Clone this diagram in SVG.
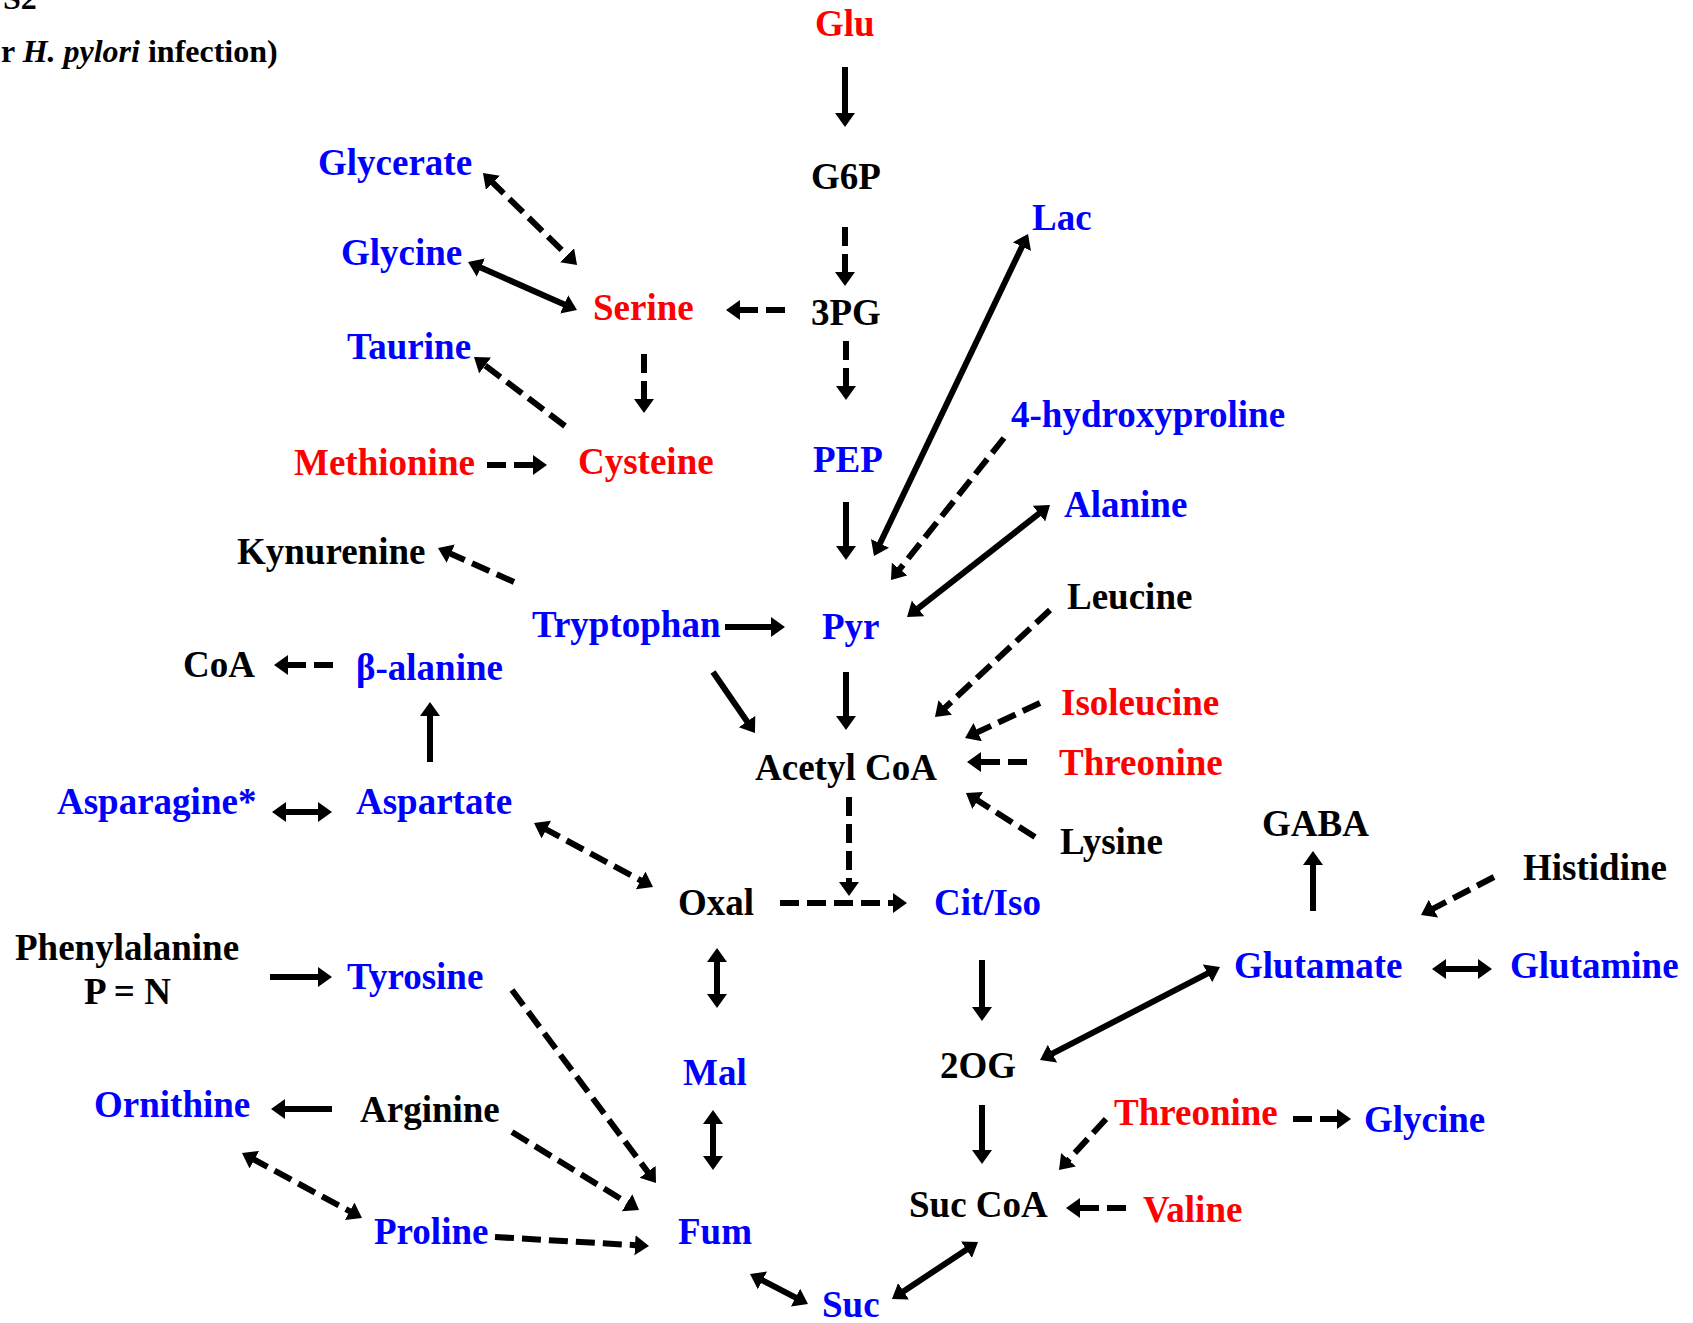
<svg xmlns="http://www.w3.org/2000/svg" width="1693" height="1323" viewBox="0 0 1693 1323">
<style>
text{font-family:"Liberation Serif","Times New Roman",serif;font-weight:bold;font-size:37px}
.r{fill:#FF0000}.b{fill:#0000FF}.k{fill:#000}
.hdr{font-size:32px}
.s{stroke:#000;stroke-width:6;fill:none;marker-end:url(#ah)}
.d{stroke:#000;stroke-width:6;fill:none;stroke-dasharray:19 8;marker-end:url(#ah)}
.bi{marker-start:url(#ah)}
</style>
<defs>
<marker id="ah" markerUnits="userSpaceOnUse" markerWidth="16" markerHeight="22" refX="4" refY="10" orient="auto-start-reverse" viewBox="0 0 16 22">
<path d="M0,0 L14,10 L0,20 z" fill="#000"/>
</marker>
</defs>
<rect width="1693" height="1323" fill="#fff"/>
<g id="header">
<text class="hdr k" x="3" y="9">S2</text>
<text class="hdr k" x="1" y="62">r <tspan font-style="italic">H. pylori</tspan> infection)</text>
</g>
<g id="connectors">
<line class="s" x1="845" y1="67" x2="845" y2="117"/>
<line class="d" x1="845" y1="227" x2="845" y2="276"/>
<line class="d" x1="785" y1="310" x2="736" y2="310"/>
<line class="d" x1="846" y1="341" x2="846" y2="390"/>
<line class="s" x1="846" y1="502" x2="846" y2="550"/>
<line class="s" x1="846" y1="672" x2="846" y2="720"/>
<line class="s bi" x1="1023.7" y1="243" x2="878.3" y2="547"/>
<line class="d" x1="1004" y1="438" x2="897.2" y2="572.2"/>
<line class="s bi" x1="1042.1" y1="511.2" x2="914.9" y2="610.8"/>
<line class="d" x1="1050" y1="610" x2="942.3" y2="710.2"/>
<line class="d" x1="1040" y1="703" x2="974.1" y2="733.8"/>
<line class="d" x1="1027" y1="762" x2="977" y2="762"/>
<line class="d" x1="1035" y1="837" x2="974.4" y2="798.4"/>
<line class="d" x1="849" y1="797" x2="849" y2="886"/>
<line class="d" x1="780" y1="903" x2="897" y2="903"/>
<line class="s" x1="982" y1="960" x2="982" y2="1011"/>
<line class="s bi" x1="1211.1" y1="971.6" x2="1048.9" y2="1055.4"/>
<line class="s" x1="1313" y1="911" x2="1313" y2="861"/>
<line class="d" x1="1494" y1="877" x2="1429.9" y2="910.4"/>
<line class="s bi" x1="1442" y1="969" x2="1482" y2="969"/>
<line class="s" x1="982" y1="1105" x2="982" y2="1154"/>
<line class="d" x1="1293" y1="1119" x2="1341" y2="1119"/>
<line class="d" x1="1106" y1="1119" x2="1065.8" y2="1162.7"/>
<line class="d" x1="1126" y1="1208" x2="1076" y2="1208"/>
<line class="s bi" x1="969.7" y1="1247.5" x2="900.3" y2="1293.5"/>
<line class="s bi" x1="758.9" y1="1278.6" x2="799.1" y2="1299.4"/>
<line class="s bi" x1="717" y1="958" x2="717" y2="998"/>
<line class="s bi" x1="713" y1="1120" x2="713" y2="1160"/>
<line class="d bi" x1="542.8" y1="827.7" x2="644.2" y2="882.3"/>
<line class="d" x1="512" y1="990" x2="650" y2="1175"/>
<line class="d" x1="512" y1="1132" x2="630.5" y2="1204.8"/>
<line class="d" x1="495" y1="1237" x2="639" y2="1245.4"/>
<line class="d bi" x1="250.8" y1="1157.8" x2="353.2" y2="1213.2"/>
<line class="s" x1="332" y1="1109" x2="281" y2="1109"/>
<line class="s" x1="270" y1="977" x2="322" y2="977"/>
<line class="s bi" x1="282" y1="812" x2="322" y2="812"/>
<line class="s" x1="430" y1="762" x2="430" y2="712"/>
<line class="d" x1="333" y1="665" x2="284" y2="665"/>
<line class="d" x1="514" y1="582" x2="447.1" y2="552.1"/>
<line class="s" x1="725" y1="627" x2="775" y2="627"/>
<line class="s" x1="713" y1="672" x2="749.3" y2="724.8"/>
<line class="d bi" x1="490.1" y1="180" x2="569.9" y2="258"/>
<line class="s bi" x1="477.2" y1="266" x2="567.8" y2="306"/>
<line class="d" x1="565" y1="426" x2="482" y2="363"/>
<line class="d" x1="644" y1="354" x2="644" y2="403"/>
<line class="d" x1="487" y1="465" x2="537" y2="465"/>
</g>
<g id="n-glu"><text class="r" x="815" y="36">Glu</text></g>
<g id="n-g6p"><text class="k" x="811" y="189">G6P</text></g>
<g id="n-3pg"><text class="k" x="811" y="325">3PG</text></g>
<g id="n-pep"><text class="b" x="813" y="472">PEP</text></g>
<g id="n-pyr"><text class="b" x="822" y="639">Pyr</text></g>
<g id="n-acetylcoa"><text class="k" x="755" y="780">Acetyl CoA</text></g>
<g id="n-oxal"><text class="k" x="678" y="915">Oxal</text></g>
<g id="n-citiso"><text class="b" x="934" y="915">Cit/Iso</text></g>
<g id="n-lac"><text class="b" x="1032" y="230">Lac</text></g>
<g id="n-hydroxyproline"><text class="b" x="1011" y="427">4-hydroxyproline</text></g>
<g id="n-alanine"><text class="b" x="1064" y="517">Alanine</text></g>
<g id="n-leucine"><text class="k" x="1067" y="609">Leucine</text></g>
<g id="n-isoleucine"><text class="r" x="1061" y="715">Isoleucine</text></g>
<g id="n-threonine1"><text class="r" x="1059" y="775">Threonine</text></g>
<g id="n-lysine"><text class="k" x="1060" y="854">Lysine</text></g>
<g id="n-gaba"><text class="k" x="1262" y="836">GABA</text></g>
<g id="n-histidine"><text class="k" x="1523" y="880">Histidine</text></g>
<g id="n-glutamate"><text class="b" x="1234" y="978">Glutamate</text></g>
<g id="n-glutamine"><text class="b" x="1510" y="978">Glutamine</text></g>
<g id="n-2og"><text class="k" x="940" y="1078">2OG</text></g>
<g id="n-threonine2"><text class="r" x="1114" y="1125">Threonine</text></g>
<g id="n-glycine2"><text class="b" x="1364" y="1132">Glycine</text></g>
<g id="n-succoa"><text class="k" x="909" y="1217">Suc CoA</text></g>
<g id="n-valine"><text class="r" x="1143" y="1222">Valine</text></g>
<g id="n-suc"><text class="b" x="822" y="1317">Suc</text></g>
<g id="n-fum"><text class="b" x="678" y="1244">Fum</text></g>
<g id="n-mal"><text class="b" x="683" y="1085">Mal</text></g>
<g id="n-proline"><text class="b" x="374" y="1244">Proline</text></g>
<g id="n-ornithine"><text class="b" x="94" y="1117">Ornithine</text></g>
<g id="n-arginine"><text class="k" x="360" y="1122">Arginine</text></g>
<g id="n-tyrosine"><text class="b" x="347" y="989">Tyrosine</text></g>
<g id="n-phenylalanine"><text class="k" x="15" y="960">Phenylalanine</text><text class="k" x="84" y="1004">P = N</text></g>
<g id="n-asparagine"><text class="b" x="57" y="814">Asparagine*</text></g>
<g id="n-aspartate"><text class="b" x="356" y="814">Aspartate</text></g>
<g id="n-balanine"><text class="b" x="356" y="680">β-alanine</text></g>
<g id="n-coa"><text class="k" x="183" y="677">CoA</text></g>
<g id="n-kynurenine"><text class="k" x="237" y="564">Kynurenine</text></g>
<g id="n-tryptophan"><text class="b" x="532" y="637">Tryptophan</text></g>
<g id="n-methionine"><text class="r" x="294" y="475">Methionine</text></g>
<g id="n-cysteine"><text class="r" x="578" y="474">Cysteine</text></g>
<g id="n-taurine"><text class="b" x="347" y="359">Taurine</text></g>
<g id="n-serine"><text class="r" x="593" y="320">Serine</text></g>
<g id="n-glycine1"><text class="b" x="341" y="265">Glycine</text></g>
<g id="n-glycerate"><text class="b" x="318" y="175">Glycerate</text></g>
</svg>
